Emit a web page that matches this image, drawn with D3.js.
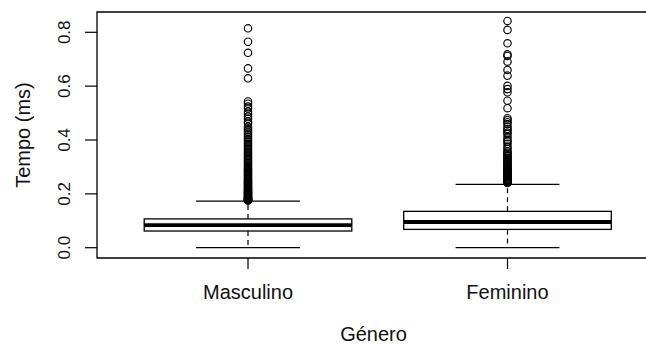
<!DOCTYPE html>
<html>
<head>
<meta charset="utf-8">
<script src="https://cdn.jsdelivr.net/npm/d3@7"></script>
<style>
  html, body { margin: 0; padding: 0; background: #fff; overflow: hidden; }
  svg { display: block; }
  text { font-family: "Liberation Sans", Arial, sans-serif; fill: #111; }
</style>
</head>
<body>
<svg id="chart" width="646" height="345"></svg>
<script>
// Response time (ms) by gender: five-number summaries and outliers
const categories = ["Masculino", "Feminino"];
const whiskerLow  = [0.0,   0.0];
const q1          = [0.062, 0.068];
const median      = [0.084, 0.0955];
const q3          = [0.107, 0.135];
const whiskerHigh = [0.173, 0.235];

const outliersMasculino = [
  0.815, 0.765, 0.724, 0.666, 0.629,
  0.543, 0.535, 0.524, 0.517, 0.505, 0.497, 0.487, 0.479, 0.468, 0.461,
  0.449, 0.443, 0.436, 0.43, 0.424, 0.418, 0.411, 0.405, 0.399, 0.393,
  0.387, 0.381, 0.375, 0.369, 0.363, 0.357, 0.352, 0.346, 0.341, 0.335,
  0.33, 0.325, 0.32, 0.315, 0.31, 0.305, 0.3, 0.296, 0.292, 0.288,
  0.284, 0.28, 0.276, 0.272, 0.268, 0.264, 0.26, 0.256, 0.252, 0.249,
  0.246, 0.243, 0.24, 0.237, 0.234, 0.231, 0.228, 0.225, 0.222, 0.219,
  0.216, 0.213, 0.211, 0.209, 0.207, 0.205, 0.203, 0.201, 0.199, 0.197,
  0.195, 0.193, 0.191, 0.189, 0.187, 0.186, 0.184, 0.183, 0.182, 0.181,
  0.18, 0.179, 0.178, 0.177, 0.176, 0.175
];
const outliersFeminino = [
  0.842, 0.809, 0.759, 0.718, 0.712, 0.691, 0.66, 0.639, 0.601, 0.589,
  0.577, 0.546, 0.518, 0.481, 0.474, 0.466, 0.459, 0.449, 0.441, 0.435,
  0.427, 0.422, 0.41, 0.401, 0.394, 0.386, 0.375, 0.367, 0.358, 0.353,
  0.348, 0.343, 0.339, 0.334, 0.33, 0.326, 0.322, 0.318, 0.314, 0.31,
  0.306, 0.302, 0.298, 0.294, 0.291, 0.288, 0.285, 0.282, 0.279, 0.276,
  0.273, 0.27, 0.267, 0.264, 0.261, 0.258, 0.255, 0.252, 0.25, 0.248,
  0.246, 0.244, 0.242, 0.24
];
const outliers = [outliersMasculino, outliersFeminino];

const yTicks = [0.0, 0.2, 0.4, 0.6, 0.8];
const xTitle = "Género";
const yTitle = "Tempo (ms)";

const svg = d3.select("#chart");

// Plot region (right edge runs past the window)
const plotLeft = 97, plotRight = 658, plotTop = 12, plotBottom = 258;

// Group positions 1..n on a padded numeric axis
const x = d3.scaleLinear().domain([0.42, 2.58]).range([plotLeft + 0.5, plotRight]);
const y = d3.scaleLinear().domain([0, 0.8]).range([247.7, 32.3]);

const boxHalf = 0.4, capHalf = 0.2;

const g = svg.append("g");

categories.forEach((cat, i) => {
  const cx = x(i + 1);
  const grp = g.append("g");

  // dashed whiskers
  grp.append("line")
    .attr("x1", cx).attr("x2", cx)
    .attr("y1", y(q3[i])).attr("y2", y(whiskerHigh[i]))
    .attr("stroke", "#000").attr("stroke-width", 1.2)
    .attr("stroke-dasharray", "5,4");
  grp.append("line")
    .attr("x1", cx).attr("x2", cx)
    .attr("y1", y(q1[i])).attr("y2", y(whiskerLow[i]))
    .attr("stroke", "#000").attr("stroke-width", 1.2)
    .attr("stroke-dasharray", "5,4");

  // whisker caps
  [whiskerLow[i], whiskerHigh[i]].forEach(v => {
    grp.append("line")
      .attr("x1", x(i + 1 - capHalf)).attr("x2", x(i + 1 + capHalf))
      .attr("y1", y(v)).attr("y2", y(v))
      .attr("stroke", "#000").attr("stroke-width", 1.2);
  });

  // box
  grp.append("rect")
    .attr("x", x(i + 1 - boxHalf))
    .attr("y", y(q3[i]))
    .attr("width", x(i + 1 + boxHalf) - x(i + 1 - boxHalf))
    .attr("height", y(q1[i]) - y(q3[i]))
    .attr("fill", "#fff").attr("stroke", "#000").attr("stroke-width", 1.3);

  // median
  grp.append("line")
    .attr("x1", x(i + 1 - boxHalf)).attr("x2", x(i + 1 + boxHalf))
    .attr("y1", y(median[i])).attr("y2", y(median[i]))
    .attr("stroke", "#000").attr("stroke-width", 3.8);

  // outliers
  grp.selectAll("circle.out")
    .data(outliers[i])
    .join("circle")
    .attr("class", "out")
    .attr("cx", cx)
    .attr("cy", d => y(d))
    .attr("r", 3.7)
    .attr("fill", "none")
    .attr("stroke", "#000")
    .attr("stroke-width", 1.15);
});

// plot frame: left, top and bottom sides (right side lies past the window)
const frame = svg.append("g")
  .attr("stroke", "#000").attr("stroke-width", 1.3).attr("fill", "none");
frame.append("path")
  .attr("d", `M${plotRight},${plotTop}H${plotLeft}V${plotBottom}H${plotRight}`);

// y axis ticks and rotated labels
const yAxis = svg.append("g");
yTicks.forEach(t => {
  yAxis.append("line")
    .attr("x1", plotLeft - 12).attr("x2", plotLeft)
    .attr("y1", y(t)).attr("y2", y(t))
    .attr("stroke", "#000").attr("stroke-width", 1.2);
  yAxis.append("text")
    .attr("transform", `translate(70,${y(t)}) rotate(-90)`)
    .attr("text-anchor", "middle")
    .attr("font-size", 17)
    .text(d3.format(".1f")(t));
});

// x axis ticks and labels
categories.forEach((cat, i) => {
  svg.append("line")
    .attr("x1", x(i + 1)).attr("x2", x(i + 1))
    .attr("y1", plotBottom).attr("y2", plotBottom + 11)
    .attr("stroke", "#000").attr("stroke-width", 1.2);
  svg.append("text")
    .attr("x", x(i + 1)).attr("y", 299)
    .attr("text-anchor", "middle")
    .attr("font-size", 20)
    .text(cat);
});

// axis titles
svg.append("text")
  .attr("x", (plotLeft + plotRight) / 2 - 4).attr("y", 341)
  .attr("text-anchor", "middle")
  .attr("font-size", 20)
  .text(xTitle);

svg.append("text")
  .attr("transform", `translate(30,${(plotTop + plotBottom) / 2}) rotate(-90)`)
  .attr("text-anchor", "middle")
  .attr("font-size", 20)
  .text(yTitle);
</script>
</body>
</html>
